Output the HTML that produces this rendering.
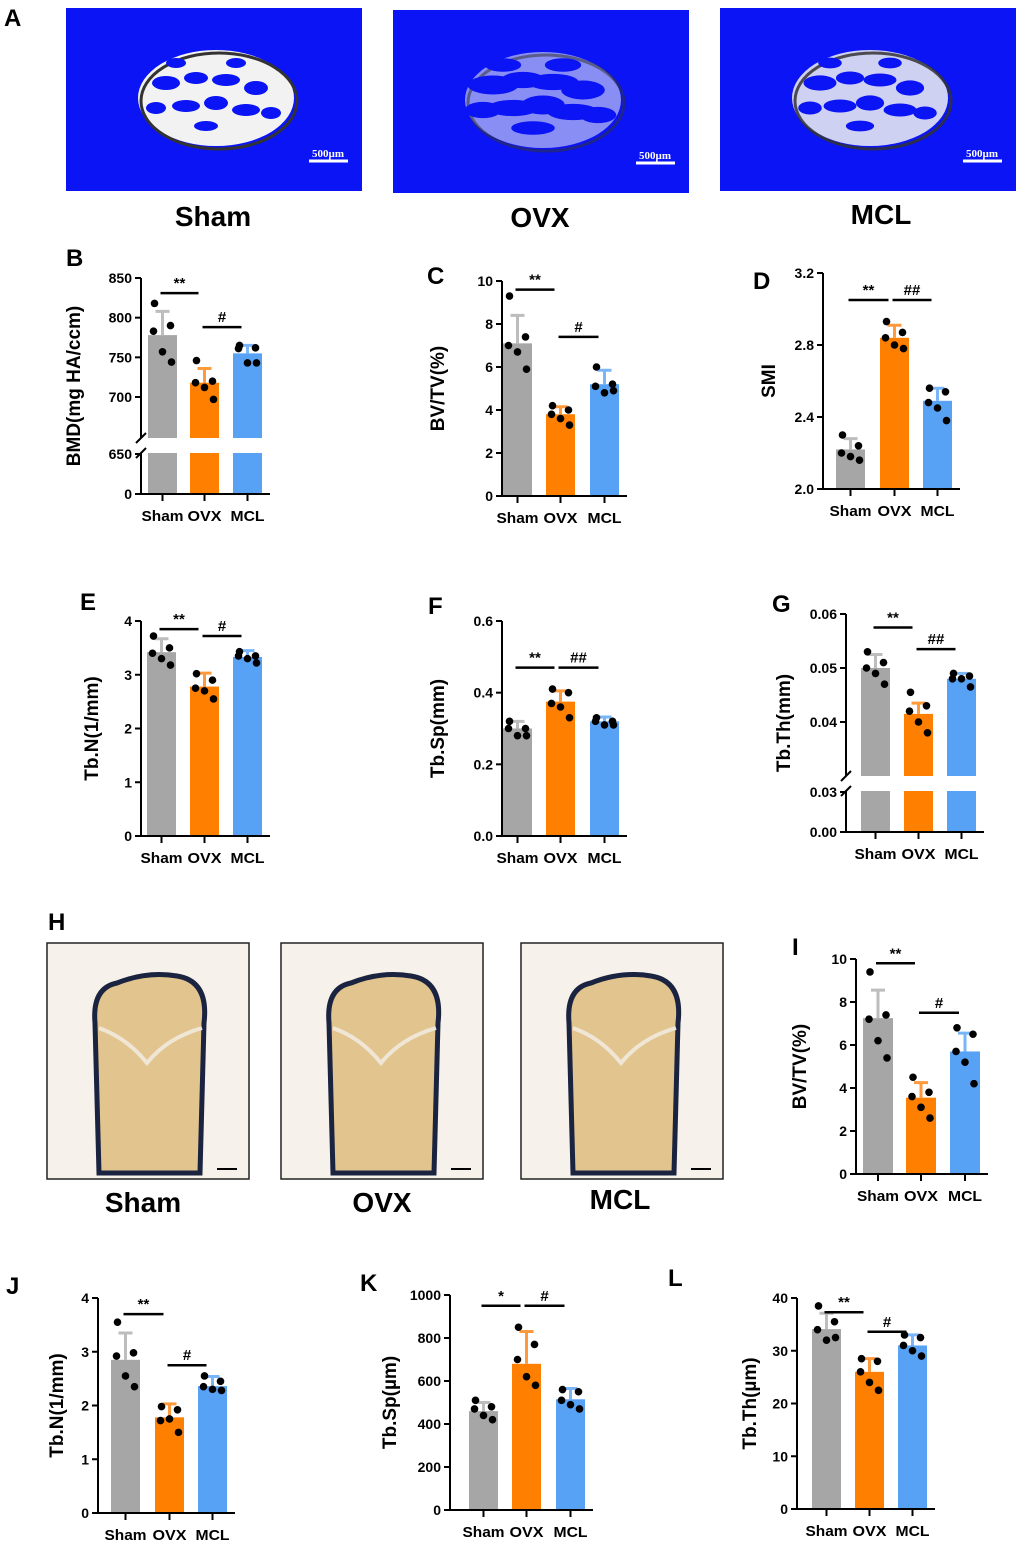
<!DOCTYPE html>
<html><head><meta charset="utf-8"><style>
body{margin:0;background:#fff;}
svg text{font-family:"Liberation Sans",Arial,sans-serif;font-weight:bold;fill:#000;}
</style></head><body>
<svg id="fig" width="1020" height="1546" viewBox="0 0 1020 1546" xmlns="http://www.w3.org/2000/svg">
<g font-size="24">
<text x="4" y="26">A</text>
<text x="66" y="266">B</text>
<text x="427" y="284">C</text>
<text x="753" y="289">D</text>
<text x="80" y="610">E</text>
<text x="428" y="614">F</text>
<text x="772" y="612">G</text>
<text x="48" y="930">H</text>
<text x="792" y="955">I</text>
<text x="6" y="1294">J</text>
<text x="360" y="1291">K</text>
<text x="668" y="1286">L</text>
</g>
<g id="microct"></g>
<g id="histo"></g>
<g id="charts"></g>
</svg>
<script>
const categories=['Sham','OVX','MCL'];
const B_means=[778,718,755];const B_err=[30,18,10];
const B_pts=[[818,790,783,757,744],[746,720,718,712,697],[765,762,761,743,743]];
const B_ticks=[0,650,700,750,800,850];
const C_means=[7.1,3.8,5.2];const C_err=[1.3,0.35,0.65];
const C_pts=[[9.3,7.4,7.0,6.7,5.9],[4.2,4.0,3.8,3.6,3.3],[6.0,5.2,5.1,4.8,4.9]];
const C_ticks=[0,2,4,6,8,10];
const D_means=[2.22,2.84,2.49];const D_err=[0.06,0.07,0.07];
const D_pts=[[2.30,2.24,2.20,2.18,2.16],[2.93,2.87,2.84,2.80,2.78],[2.56,2.54,2.48,2.45,2.38]];
const D_ticks=[2.0,2.4,2.8,3.2];
const E_means=[3.42,2.78,3.33];const E_err=[0.25,0.25,0.12];
const E_pts=[[3.72,3.50,3.40,3.30,3.18],[3.02,2.90,2.75,2.70,2.55],[3.43,3.35,3.35,3.30,3.22]];
const E_ticks=[0,1,2,3,4];
const F_means=[0.30,0.375,0.32];const F_err=[0.02,0.03,0.012];
const F_pts=[[0.32,0.30,0.30,0.28,0.28],[0.41,0.40,0.37,0.36,0.33],[0.33,0.32,0.32,0.31,0.31]];
const F_ticks=[0.0,0.2,0.4,0.6];
const G_means=[0.050,0.0415,0.048];const G_err=[0.0025,0.002,0.001];
const G_pts=[[0.053,0.051,0.050,0.049,0.047],[0.0455,0.043,0.042,0.040,0.038],[0.049,0.0485,0.048,0.048,0.0465]];
const G_ticks=[0,0.03,0.04,0.05,0.06];
const I_means=[7.25,3.55,5.7];const I_err=[1.3,0.7,0.85];
const I_pts=[[9.4,7.4,7.2,6.2,5.4],[4.5,3.8,3.6,3.1,2.6],[6.8,6.5,5.7,5.2,4.2]];
const I_ticks=[0,2,4,6,8,10];
const J_means=[2.85,1.78,2.36];const J_err=[0.5,0.25,0.18];
const J_pts=[[3.55,2.98,2.92,2.55,2.35],[1.98,1.92,1.72,1.75,1.5],[2.55,2.45,2.35,2.30,2.28]];
const J_ticks=[0,1,2,3,4];
const K_means=[460,680,515];const K_err=[40,150,50];
const K_pts=[[510,480,470,440,420],[850,770,700,620,580],[560,550,510,490,470]];
const K_ticks=[0,200,400,600,800,1000];
const L_means=[34.1,26,31];const L_err=[3,2.5,2];
const L_pts=[[38.5,35.5,34,32,32.5],[28.5,28,26,24,22.5],[33,32.5,31,30,29]];
const L_ticks=[0,10,20,30,40];

const NS='http://www.w3.org/2000/svg';
const fig=document.getElementById('charts');
function mk(tag,attrs,parent){const e=document.createElementNS(NS,tag);for(const k in attrs)e.setAttribute(k,attrs[k]);parent.appendChild(e);return e;}
const COLORS=['#a6a6a6','#ff7f00','#58a2f5'];
const ECOL=['#bdbdbd','#ff9a3c','#7ab6f7'];
const OFF=[-8,8,-9,0,9];

function panel(id,c){
  const g=mk('g',{},fig);
  
  
  const y=c.scale;
  c.means.forEach((m,i)=>{
    const bx=c.bx[i];
    const r=mk('rect',{x:bx,y:y(m),width:c.bw,height:y(c.min)-y(m),fill:COLORS[i]},g);
    
    
    const cx=bx+c.bw/2;
    const e=mk('path',{d:`M${cx},${y(m)}V${y(m+c.err[i])}M${cx-7},${y(m+c.err[i])}H${cx+7}`,stroke:ECOL[i],'stroke-width':3,fill:'none'},g);
    
    
  });
  if(c.gap){mk('rect',{x:c.ax+2,y:c.gap[0],width:c.bx[2]+c.bw-c.ax,height:c.gap[1]-c.gap[0],fill:'#fff'},g);}
  c.pts.forEach((arr,i)=>{const cx=c.bx[i]+c.bw/2;arr.forEach((v,k)=>{
    const d=mk('circle',{cx:cx+OFF[k],cy:y(v),r:3.8,fill:'#000'},g);
    
    
  });});
  const x0=c.ax,yb=y(c.min),xr=c.bx[2]+c.bw+8;
  let ad=c.gap?`M${x0},${y(c.top)}V${c.gap[0]}M${x0},${c.gap[1]}V${yb}`:`M${x0},${y(c.top)}V${yb}`;
  const ax=mk('path',{d:ad+`M${x0},${yb}H${xr}`,stroke:'#000','stroke-width':2,fill:'none'},g);
  
  
  if(c.gap){mk('path',{d:`M${x0-5},${c.gap[0]+5}L${x0+5},${c.gap[0]-5}M${x0-5},${c.gap[1]+5}L${x0+5},${c.gap[1]-5}`,stroke:'#000','stroke-width':2},g);}
  c.ticks.forEach(t=>{
    mk('line',{x1:x0-6,x2:x0,y1:y(t),y2:y(t),stroke:'#000','stroke-width':2},g);
    const tl=mk('text',{x:x0-9,y:y(t)+5,'text-anchor':'end','font-size':14},g);
    tl.textContent=c.fmt?c.fmt(t):String(t);
    
    
  });
  categories.forEach((n,i)=>{const cx=c.bx[i]+c.bw/2;
    mk('line',{x1:cx,x2:cx,y1:yb,y2:yb+7,stroke:'#000','stroke-width':2},g);
    const t=mk('text',{x:cx,y:yb+27,'text-anchor':'middle','font-size':15,textLength:i==0?42:34,lengthAdjust:'spacingAndGlyphs'},g);
    t.textContent=n;
    
    
  });
  const tt=mk('text',{x:0,y:0,'text-anchor':'middle','font-size':19,transform:`translate(${c.tx},${(y(c.top)+yb)/2}) rotate(-90)`},g);
  tt.textContent=c.title;
  
  
  c.sig.forEach(s=>{
    const a=c.bx[s[0]]+c.bw/2-2,b=c.bx[s[1]]+c.bw/2-6,yy=y(s[2]);
    const l=mk('line',{x1:a,x2:b,y1:yy,y2:yy,stroke:'#000','stroke-width':2.5},g);
    
    
    const t=mk('text',{x:(a+b)/2,y:yy-5,'text-anchor':'middle','font-size':15},g);
    t.textContent=s[3];
    
    
  });
}
function lin(d0,d1,p0,p1){return v=>p0+(v-d0)/(d1-d0)*(p1-p0);}
panel('b',{means:B_means,err:B_err,pts:B_pts,ticks:B_ticks,min:0,top:850,ax:141,bx:[148,190,233],bw:29,
  scale:v=>v<=650?lin(0,650,494,454)(v):lin(700,850,397,278)(v),gap:[438,453],tx:80,title:'BMD(mg HA/ccm)',
  sig:[[0,1,831,'**'],[1,2,788,'#']]});
panel('c',{means:C_means,err:C_err,pts:C_pts,ticks:C_ticks,min:0,top:10,ax:502,bx:[503,546,590],bw:29,
  scale:lin(0,10,496,281),tx:444,title:'BV/TV(%)',sig:[[0,1,9.6,'**'],[1,2,7.4,'#']]});
panel('d',{means:D_means,err:D_err,pts:D_pts,ticks:D_ticks,min:2.0,top:3.2,ax:823,bx:[836,880,923],bw:29,
  scale:lin(2.0,3.2,489,273),tx:775,title:'SMI',fmt:t=>t.toFixed(1),sig:[[0,1,3.05,'**'],[1,2,3.05,'##']]});
panel('e',{means:E_means,err:E_err,pts:E_pts,ticks:E_ticks,min:0,top:4,ax:141,bx:[147,190,233],bw:29,
  scale:lin(0,4,836,621),tx:98,title:'Tb.N(1/mm)',sig:[[0,1,3.85,'**'],[1,2,3.72,'#']]});
panel('f',{means:F_means,err:F_err,pts:F_pts,ticks:F_ticks,min:0,top:0.6,ax:502,bx:[503,546,590],bw:29,
  scale:lin(0,0.6,836,621),tx:444,title:'Tb.Sp(mm)',fmt:t=>t.toFixed(1),sig:[[0,1,0.47,'**'],[1,2,0.47,'##']]});
panel('g',{means:G_means,err:G_err,pts:G_pts,ticks:G_ticks,min:0,top:0.06,ax:846,bx:[861,904,947],bw:29,
  scale:v=>v<=0.03?lin(0,0.03,832,792)(v):lin(0.04,0.05,722,668)(v),gap:[776,791],tx:790,title:'Tb.Th(mm)',fmt:t=>t.toFixed(2),
  sig:[[0,1,0.0575,'**'],[1,2,0.0535,'##']]});
panel('i',{means:I_means,err:I_err,pts:I_pts,ticks:I_ticks,min:0,top:10,ax:856,bx:[863,906,950],bw:30,
  scale:lin(0,10,1174,959),tx:806,title:'BV/TV(%)',sig:[[0,1,9.8,'**'],[1,2,7.5,'#']]});
panel('j',{means:J_means,err:J_err,pts:J_pts,ticks:J_ticks,min:0,top:4,ax:98,bx:[111,155,198],bw:29,
  scale:lin(0,4,1513,1298),tx:63,title:'Tb.N(1/mm)',sig:[[0,1,3.7,'**'],[1,2,2.75,'#']]});
panel('k',{means:K_means,err:K_err,pts:K_pts,ticks:K_ticks,min:0,top:1000,ax:450,bx:[469,512,556],bw:29,
  scale:lin(0,1000,1510,1295),tx:396,title:'Tb.Sp(µm)',sig:[[0,1,950,'*'],[1,2,950,'#']]});
panel('l',{means:L_means,err:L_err,pts:L_pts,ticks:L_ticks,min:0,top:40,ax:797,bx:[812,855,898],bw:29,
  scale:lin(0,40,1509,1298),tx:756,title:'Tb.Th(µm)',sig:[[0,1,37.3,'**'],[1,2,33.6,'#']]});

// micro-CT images
const mc=document.getElementById('microct');
const HOLES=[[-50,-15,14,7],[-20,-20,12,6],[10,-18,14,6],[40,-10,12,7],[-60,10,10,6],[-30,8,14,6],[0,5,12,7],[30,12,14,6],[55,15,10,6],[-10,28,12,5],[20,-35,10,5],[-40,-35,10,5]];
[[66,8,'Sham',213,226,1],[393,10,'OVX',540,227,0.55],[720,8,'MCL',881,224,0.85]].forEach((p,i)=>{
  const g=mk('g',{},mc);
  
  
  mk('rect',{x:p[0],y:p[1],width:296,height:183,fill:'#0a14f5'},g);
  const cx=p[0]+150,cy=p[1]+90;
  mk('ellipse',{cx:cx,cy:cy,rx:78,ry:48,fill:'#f2f2f2',opacity:p[5]},g);
  mk('ellipse',{cx:cx+3,cy:cy+3,rx:78,ry:48,fill:'none',stroke:'#333','stroke-width':3,opacity:p[5]},g);
  HOLES.forEach(h=>{mk('ellipse',{cx:cx+h[0],cy:cy+h[1],rx:h[2]/p[5],ry:h[3]/Math.sqrt(p[5]),fill:'#0a14f5'},g);});
  mk('line',{x1:p[0]+243,x2:p[0]+282,y1:p[1]+153,y2:p[1]+153,stroke:'#fff','stroke-width':3},g);
  const sl=mk('text',{x:p[0]+262,y:p[1]+149,'text-anchor':'middle','font-size':11,style:'fill:#fff;font-family:Liberation Serif'},g);
  sl.textContent='500µm';
  const t=mk('text',{x:p[3],y:p[4],'text-anchor':'middle','font-size':28},mc);
  t.textContent=p[2];
  
  
});
// histology
const hs=document.getElementById('histo');
[[47,'Sham',143,1212],[281,'OVX',382,1212],[521,'MCL',620,1209]].forEach(p=>{
  const g=mk('g',{},hs);
  
  
  const x=p[0],y=943;
  mk('rect',{x:x,y:y,width:202,height:236,fill:'#f6f1ea',stroke:'#222','stroke-width':1.5},g);
  mk('path',{d:`M${x+52},${y+230}L${x+48},${y+80}Q${x+45},${y+45} ${x+70},${y+40}Q${x+100},${y+28} ${x+130},${y+33}Q${x+162},${y+38} ${x+157},${y+80}L${x+153},${y+230}Z`,fill:'#e2c48f',stroke:'#1a2340','stroke-width':5},g);
  mk('path',{d:`M${x+52},${y+85}Q${x+80},${y+95} ${x+100},${y+120}Q${x+120},${y+95} ${x+155},${y+85}`,stroke:'#f0e6d6','stroke-width':4,fill:'none'},g);
  mk('line',{x1:x+170,x2:x+190,y1:y+226,y2:y+226,stroke:'#000','stroke-width':2},g);
  const t=mk('text',{x:p[2],y:p[3],'text-anchor':'middle','font-size':28},hs);
  t.textContent=p[1];
  
  
});
</script>
</body></html>
